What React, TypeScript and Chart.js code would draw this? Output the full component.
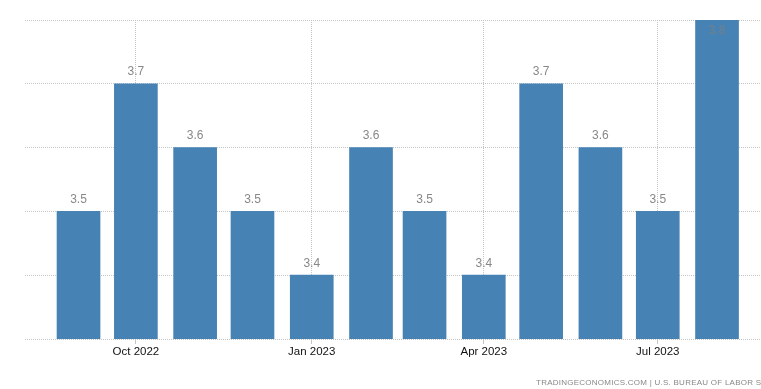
import React, { useEffect, useRef } from "react";
import { Chart, registerables } from "chart.js";

Chart.register(...registerables);

const months = ["2022-09", "2022-10", "2022-11", "2022-12", "2023-01", "2023-02", "2023-03", "2023-04", "2023-05", "2023-06", "2023-07", "2023-08"];
const values = [3.5, 3.7, 3.6, 3.5, 3.4, 3.6, 3.5, 3.4, 3.7, 3.6, 3.5, 3.8];
const tickDates = ["2022-10-01", "2023-01-01", "2023-04-01", "2023-07-01"];
const tickLabels = ["Oct 2022", "Jan 2023", "Apr 2023", "Jul 2023"];
const axisStart = "2022-08-04";
const axisEnd = "2023-08-24";
const yMin = 3.3;
const yMax = 3.8;
const sourceText = "TRADINGECONOMICS.COM | U.S. BUREAU OF LABOR STATISTICS";

const dayNum = (s: string) => {
  const p = s.split("-").map(Number);
  return Date.UTC(p[0], p[1] - 1, p[2] || 1) / 86400000;
};

const valueLabels = {
  id: "valueLabels",
  afterDatasetsDraw(chart: any) {
    const ctx = chart.ctx;
    const meta = chart.getDatasetMeta(0);
    const area = chart.chartArea;
    ctx.save();
    ctx.font = "12px 'Liberation Sans', Arial, sans-serif";
    ctx.textAlign = "center";
    ctx.textBaseline = "middle";
    meta.data.forEach((el: any, i: number) => {
      const v = values[i];
      const txt = v.toFixed(1);
      if (el.y - area.top < 16) {
        ctx.fillStyle = "#72808c";
        ctx.fillText(txt, el.x, el.y + 11);
      } else {
        ctx.fillStyle = "#888888";
        ctx.fillText(txt, el.x, el.y - 12);
      }
    });
    ctx.restore();
  },
};

export default function App() {
  const ref = useRef<HTMLCanvasElement | null>(null);
  useEffect(() => {
    if (!ref.current) return;
    const data = months.map((m, i) => ({ x: dayNum(m), y: values[i] }));
    const ticksVals = tickDates.map(dayNum);
    const chart = new Chart(ref.current, {
      type: "bar",
      data: {
        datasets: [
          {
            data: data as any,
            backgroundColor: "#4682B4",
            borderWidth: 0,
            barThickness: 43,
          },
        ],
      },
      options: {
        animation: false,
        responsive: false,
        maintainAspectRatio: false,
        layout: { padding: { left: 25, top: 20, right: 0, bottom: 0 } },
        plugins: { legend: { display: false }, tooltip: { enabled: false } },
        scales: {
          x: {
            type: "linear",
            min: dayNum(axisStart),
            max: dayNum(axisEnd),
            offset: false,
            afterBuildTicks: (s: any) => {
              s.ticks = ticksVals.map((v) => ({ value: v }));
            },
            afterFit: (s: any) => {
              s.height = 50;
            },
            ticks: {
              autoSkip: false,
              maxRotation: 0,
              padding: 1,
              color: "#111111",
              font: { family: "'Liberation Sans', Arial, sans-serif", size: 11.5 },
              callback: (v: any) => {
                const idx = ticksVals.indexOf(Number(v));
                return idx >= 0 ? tickLabels[idx] : "";
              },
            },
            grid: {
              offset: false,
              color: "#c4c4c4",
              tickLength: 5,
              tickColor: "#c4c4c4",
              drawOnChartArea: true,
            },
            border: { display: false, dash: [1, 1] },
          },
          y: {
            min: yMin,
            max: yMax,
            ticks: { display: false, stepSize: 0.1 },
            grid: { color: "#c4c4c4", drawTicks: false },
            border: { display: false, dash: [1, 1] },
          },
        },
      },
      plugins: [valueLabels],
    });
    return () => chart.destroy();
  }, []);
  return (
    <div style={{ position: "absolute", left: 0, top: 0, width: 761, height: 389, overflow: "hidden", background: "#fff" }}>
      <canvas ref={ref} width={761} height={389} style={{ width: 761, height: 389, display: "block" }} />
      <div
        style={{
          position: "absolute",
          left: 536,
          top: 377,
          whiteSpace: "nowrap",
          fontFamily: "'Liberation Sans', Arial, sans-serif",
          fontSize: 8,
          letterSpacing: 0.25,
          color: "#888",
          lineHeight: "11px",
        }}
      >
        {sourceText}
      </div>
    </div>
  );
}
